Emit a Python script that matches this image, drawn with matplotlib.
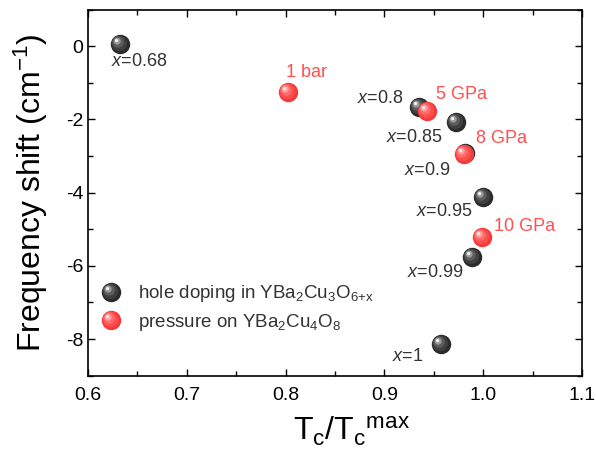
import numpy as np
import matplotlib
matplotlib.use("Agg")
import matplotlib.pyplot as plt
from matplotlib.path import Path
from matplotlib.markers import MarkerStyle

plt.rcParams["font.family"] = ["Liberation Sans", "DejaVu Sans"]
plt.rcParams["mathtext.fontset"] = "custom"
plt.rcParams["mathtext.rm"] = "Liberation Sans"
plt.rcParams["mathtext.it"] = "Liberation Sans:italic"
plt.rcParams["mathtext.bf"] = "Liberation Sans:bold"

# Hole doping in YBa2Cu3O6+x
dop_tc = [0.632, 0.935, 0.972, 0.982, 1.000, 0.989, 0.957]
dop_shift = [0.07, -1.67, -2.08, -2.93, -4.13, -5.76, -8.14]
dop_labels = ["$x$=0.68", "$x$=0.8", "$x$=0.85", "$x$=0.9", "$x$=0.95", "$x$=0.99", "$x$=1"]

# Pressure on YBa2Cu4O8
prs_tc = [0.802, 0.943, 0.981, 0.999]
prs_shift = [-1.26, -1.76, -2.95, -5.22]
prs_labels = ["1 bar", "5 GPa", "8 GPa", "10 GPa"]

x_ticks = [0.6, 0.7, 0.8, 0.9, 1.0, 1.1]
y_ticks = [0, -2, -4, -6, -8]

# label placement (pixel offsets from each ball, horizontal alignment)
dop_offsets = [((-9, -18), "left"), ((-16, 9), "right"), ((-13, -15), "right"),
               ((-15, -17), "right"), ((-11, -14), "right"), ((-9, -15), "right"),
               ((-17, -12), "right")]
prs_offsets = [((-2, 20), "left"), ((9, 16), "left"), ((12, 16), "left"), ((12, 11), "left")]

BLACK_SHADES = ["#2b2b2b", "#3f3f3f", "#5c5c5c", "#999999", "#f2f2f2"]
RED_SHADES = ["#f23c3c", "#ff4d4d", "#ff6a6a", "#ff9f9f", "#ffe6e6"]
TEXT_GREY = "#333333"
TEXT_RED = "#ff4f4f"


def sphere_layers(radius, shades):
    """Discs shifted towards the upper left to fake a shaded ball."""
    specs = [(1.0, 0.0), (0.80, 0.12), (0.58, 0.24), (0.36, 0.34), (0.17, 0.40)]
    layers = []
    for (rf, off), color in zip(specs, shades):
        circ = Path.circle(center=(-off * radius, off * radius), radius=rf * radius)
        ms = 2 * np.max(np.abs(circ.vertices))
        layers.append((MarkerStyle(circ), ms, color))
    return layers


def draw_spheres(ax, xs, ys, shades, z):
    handles = []
    for i, (mk, ms, color) in enumerate(sphere_layers(7.0, shades)):
        (ln,) = ax.plot(xs, ys, ls="none", marker=mk, ms=ms, mfc=color,
                        mew=0, zorder=z + i * 0.01)
        handles.append(ln)
    return tuple(handles)


fig = plt.figure(figsize=(5.96, 4.54), dpi=100)
ax = fig.add_axes([0.1477, 0.1725, 0.8288, 0.8065])

h_dop = draw_spheres(ax, dop_tc, dop_shift, BLACK_SHADES, 3)
h_prs = draw_spheres(ax, prs_tc, prs_shift, RED_SHADES, 4)

for xv, yv, txt, (off, ha) in zip(dop_tc, dop_shift, dop_labels, dop_offsets):
    ax.annotate(txt, (xv, yv), xytext=off, textcoords="offset pixels",
                ha=ha, va="center", fontsize=13, color=TEXT_GREY)
for xv, yv, txt, (off, ha) in zip(prs_tc, prs_shift, prs_labels, prs_offsets):
    ax.annotate(txt, (xv, yv), xytext=off, textcoords="offset pixels",
                ha=ha, va="center", fontsize=13, color=TEXT_RED)

ax.set_xlim(0.6, 1.1)
ax.set_ylim(-9, 1)
ax.set_xticks(x_ticks)
ax.set_xticklabels([f"{v:.1f}" for v in x_ticks])
ax.set_yticks(y_ticks)
ax.set_yticklabels([f"{v:d}" for v in y_ticks])
ax.set_xticks(np.arange(0.65, 1.1, 0.1), minor=True)
ax.set_yticks(np.arange(-9, 1.01, 2), minor=True)

ax.tick_params(which="both", direction="in", top=True, right=True, width=1.0,
               labelsize=14, colors="black")
ax.tick_params(which="major", length=5)
ax.tick_params(which="minor", length=3.4)
ax.tick_params(axis="x", pad=8)
for sp in ax.spines.values():
    sp.set_linewidth(1.2)

ax.set_xlabel(r"T$_\mathregular{c}$/T$_\mathregular{c}{}^\mathregular{max}$",
              fontsize=23, labelpad=8, x=0.534)
ax.set_ylabel(r"Frequency shift (cm$^\mathregular{-1}$)", fontsize=23, labelpad=11)

leg = ax.legend([h_dop, h_prs],
                [r"hole doping in YBa$_\mathregular{2}$Cu$_\mathregular{3}$O$_\mathregular{6{+}x}$",
                 r"pressure on YBa$_\mathregular{2}$Cu$_\mathregular{4}$O$_\mathregular{8}$"],
                loc="center left", bbox_to_anchor=(0.024, 0.185), frameon=False,
                fontsize=13.5, numpoints=1, handlelength=1.2, handletextpad=0.85,
                labelspacing=0.4, borderpad=0, borderaxespad=0)
for t in leg.get_texts():
    t.set_color(TEXT_GREY)

fig.savefig("out.png", dpi=100)
